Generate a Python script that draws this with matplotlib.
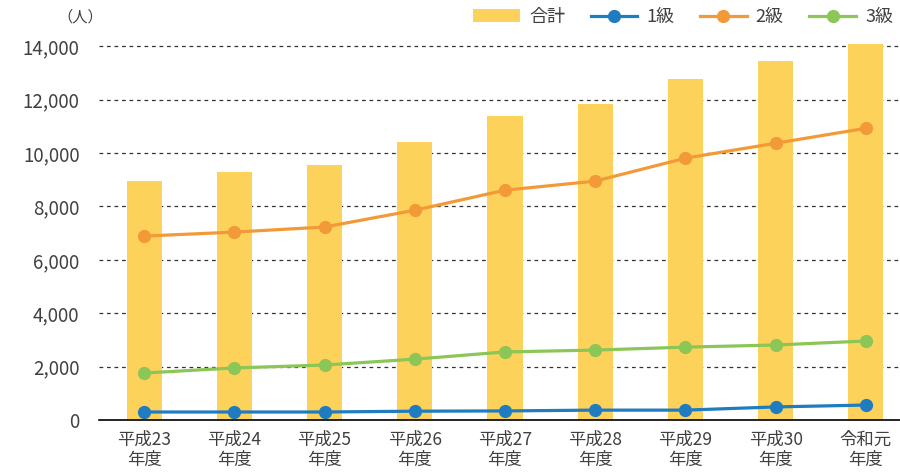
import matplotlib
matplotlib.use('Agg')
import matplotlib.pyplot as plt
import numpy as np

plt.rcParams['font.family'] = ['Noto Sans CJK JP', 'DejaVu Sans']

years = ['平成23\n年度', '平成24\n年度', '平成25\n年度', '平成26\n年度', '平成27\n年度',
         '平成28\n年度', '平成29\n年度', '平成30\n年度', '令和元\n年度']
total = [8950, 9290, 9550, 10410, 11380, 11830, 12770, 13440, 14100]
grade1 = [300, 300, 300, 330, 340, 370, 370, 490, 560]
grade2 = [6890, 7040, 7230, 7860, 8610, 8950, 9810, 10370, 10930]
grade3 = [1760, 1950, 2060, 2280, 2550, 2620, 2730, 2810, 2960]

fig = plt.figure(figsize=(9, 4.75), dpi=100)
W, H = 900, 475
ax = fig.add_axes([99 / W, 55 / H, 812 / W, 379 / H])

x = np.arange(len(years))
bars = ax.bar(x, total, width=0.39, color='#FDD25B', label='合計', zorder=2)
l1, = ax.plot(x, grade1, color='#1F7CC1', lw=2.3, marker='o', ms=8.5, label='1級', zorder=3)
l2, = ax.plot(x, grade2, color='#F29A38', lw=2.3, marker='o', ms=8.5, label='2級', zorder=3)
l3, = ax.plot(x, grade3, color='#8CC656', lw=2.3, marker='o', ms=8.5, label='3級', zorder=3)

ax.set_xlim(-0.5, len(years) - 0.5)
ax.set_ylim(0, 14200)
ax.set_yticks(range(0, 14001, 2000))
ax.set_yticklabels([f'{v:,}' for v in range(0, 14001, 2000)], fontsize=13.5, color='#404040')
ax.set_xticks(x)
ax.set_xticklabels(years, fontsize=12.5, color='#404040', linespacing=1.1)
ax.tick_params(axis='both', length=0)
ax.tick_params(axis='y', pad=14)
ax.tick_params(axis='x', pad=8)

for s in ['top', 'right', 'left']:
    ax.spines[s].set_visible(False)
ax.spines['bottom'].set_color('black')
ax.spines['bottom'].set_linewidth(1.2)
ax.spines['bottom'].set_zorder(4)

for v in range(2000, 14001, 2000):
    ax.axhline(v, color='#333333', lw=0.9, ls=(0, (3, 3)), zorder=1)

fig.text(80 / W, 1 - 17 / H, '（人）', fontsize=11, color='#404040', ha='center', va='center')

leg = fig.legend([bars, l1, l2, l3], ['合計', '1級', '2級', '3級'],
                 loc='center right', bbox_to_anchor=(893 / W, 1 - 17 / H),
                 ncol=4, frameon=False, fontsize=13, handlelength=2.6, columnspacing=1.4,
                 handletextpad=0.5, borderaxespad=0, borderpad=0)
for t in leg.get_texts():
    t.set_color('#404040')

fig.savefig('out.png', dpi=100)
